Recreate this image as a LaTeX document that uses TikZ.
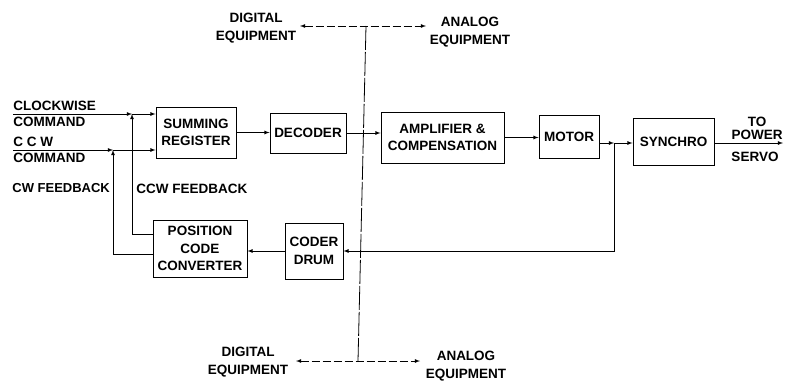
\documentclass[tikz,border=0pt]{standalone}
\usepackage{fontspec}
\setmainfont{Liberation Sans}
\begin{document}
\begin{tikzpicture}[>=latex, x=1pt, y=-1pt, line width=0.8pt,
    blk/.style={draw, line width=0.9pt, align=center, inner sep=0pt,
        font=\fontsize{13.5}{17.5}\selectfont\bfseries},
    lbl/.style={align=center, inner sep=0pt, font=\fontsize{13.5}{17.5}\selectfont\bfseries}]
    \path[use as bounding box] (0,0) rectangle (790,381);

    % Các khối
    \node[blk, minimum width=80pt, minimum height=51pt] (sr) at (196,132.5) {SUMMING\\REGISTER};
    \node[blk, minimum width=76pt, minimum height=40pt] (dec) at (308,133) {DECODER};
    \node[blk, minimum width=123pt, minimum height=51pt] (amp) at (442.5,137.5) {AMPLIFIER \&\\COMPENSATION};
    \node[blk, minimum width=60pt, minimum height=43pt] (mot) at (569,136.5) {MOTOR};
    \node[blk, minimum width=81pt, minimum height=47pt] (syn) at (673.5,141.5) {SYNCHRO};
    \node[blk, minimum width=94pt, minimum height=57pt] (pcc) at (200,248.5) {POSITION\\CODE\\CONVERTER};
    \node[blk, minimum width=58pt, minimum height=56pt] (cd) at (314,251) {CODER\\DRUM};

    % Điểm nối
    \coordinate (cwin) at (13,114);
    \coordinate (cwj) at (132,114);
    \coordinate (ccwin) at (13,150);
    \coordinate (ccwj) at (113,150);
    \coordinate (j) at (614,143);
    \coordinate (out) at (783,143);

    % Lệnh vào
    \draw[->] (cwin) -- (cwj);
    \draw[->] (cwj) -- (cwj -| sr.west);
    \draw[->] (ccwin) -- (ccwj);
    \draw[->] (ccwj) -- (ccwj -| sr.west);
    \node[lbl, anchor=south west] at ([yshift=2.5pt]cwin) {CLOCKWISE};
    \node[lbl, anchor=north west] at ([yshift=-2.5pt]cwin) {COMMAND};
    \node[lbl, anchor=south west] at ([yshift=2.5pt]ccwin) {C C W};
    \node[lbl, anchor=north west] at ([yshift=-2.5pt]ccwin) {COMMAND};

    % Đường chính
    \draw[->] (sr.east) -- (sr.east -| dec.west);
    \draw[->] (dec.east) -- (dec.east -| amp.west);
    \draw[->] (amp.east) -- (amp.east -| mot.west);
    \draw[->] (mot.east |- j) -- (j);
    \draw[->] (j) -- (j -| syn.west);
    \draw[->] (syn.east |- out) -- (out);
    \node[lbl, anchor=south] at (757,140) {TO\\[-4.5pt]POWER};
    \node[lbl, anchor=north] at (755,152) {SERVO};

    % Phản hồi
    \draw[->] (j) |- (cd.east);
    \draw[->] (cd.west) -- (cd.west -| pcc.east);
    \draw[->] ([yshift=14.5pt]pcc.west) -| (cwj);
    \draw[->] ([yshift=-5.5pt]pcc.west) -| (ccwj);
    \node[lbl, anchor=west, font=\fontsize{13}{17.5}\selectfont\bfseries] at (12,188) {CW FEEDBACK};
    \node[lbl, anchor=west] at (136,189) {CCW FEEDBACK};

    % Ranh giới số / tương tự
    \coordinate (vt) at (366,26);
    \coordinate (vb) at (358,361);
    \coordinate (tl) at (300,26);
    \coordinate (tr) at (426,26);
    \coordinate (bl) at (296,361);
    \coordinate (br) at (420,361);
    \draw[dash pattern=on 24pt off 2pt] (vt) -- (vb);
    \draw[<->, dash pattern=on 8pt off 3pt] (tl) -- (tr);
    \draw[<->, dash pattern=on 8pt off 3pt] (bl) -- (br);
    \node[lbl] at (256,28) {DIGITAL\\EQUIPMENT};
    \node[lbl] at (470,32) {ANALOG\\EQUIPMENT};
    \node[lbl] at (248,362) {DIGITAL\\EQUIPMENT};
    \node[lbl] at (466,366) {ANALOG\\EQUIPMENT};
\end{tikzpicture}
\end{document}
